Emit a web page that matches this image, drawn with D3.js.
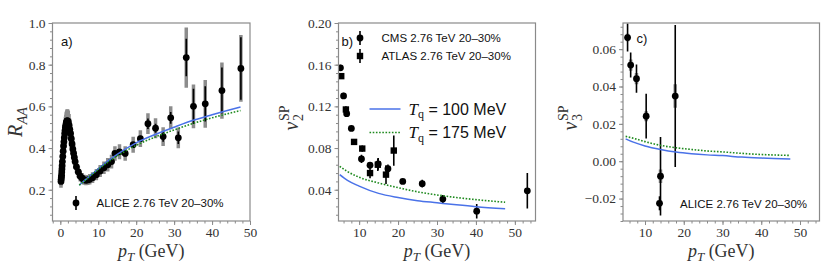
<!DOCTYPE html>
<html><head><meta charset="utf-8">
<script src="https://cdn.jsdelivr.net/npm/d3@7"></script>
<style>body{margin:0;background:#fff}svg{display:block}</style>
</head><body><svg id="c" width="830" height="271"></svg>
<script>
// ---------- DATA ----------
// Panel a: ALICE R_AA 20-30%
const aliceLowPt  = [0.18,0.23,0.28,0.33,0.38,0.43,0.48,0.55,0.65,0.75,0.85,0.95,1.05,1.15,1.25,1.35,1.45,1.55,1.65,1.75,1.85,1.95,2.1,2.3,2.5,2.7,2.9,3.1,3.3,3.5,3.7,3.9,4.25,4.75,5.25,5.75,6.25,6.75,7.25,7.75,8.5,9.5,10.5,11.5,12.5,13.5];
const aliceLowRaa = [0.24,0.25,0.26,0.27,0.285,0.30,0.315,0.335,0.36,0.385,0.41,0.43,0.45,0.47,0.485,0.50,0.51,0.52,0.525,0.53,0.53,0.53,0.525,0.51,0.49,0.47,0.445,0.42,0.395,0.375,0.355,0.335,0.31,0.285,0.265,0.255,0.248,0.245,0.247,0.25,0.258,0.272,0.29,0.305,0.32,0.335];
const aliceLowSys = [0.03,0.03,0.03,0.03,0.03,0.03,0.032,0.033,0.035,0.037,0.04,0.042,0.044,0.046,0.048,0.05,0.05,0.052,0.053,0.055,0.055,0.055,0.054,0.053,0.05,0.048,0.045,0.042,0.04,0.038,0.035,0.033,0.03,0.028,0.026,0.025,0.024,0.024,0.024,0.025,0.026,0.027,0.029,0.03,0.032,0.033];
const aliceHighPt   = [14.4,15.6,17.1,19.2,21.1,23.1,25.1,27.1,29.1,31.1,33.2,35.1,38.2,42.6,47.6];
const aliceHighRaa  = [0.374,0.382,0.374,0.416,0.445,0.517,0.495,0.455,0.545,0.449,0.834,0.600,0.612,0.676,0.782];
const aliceHighStat = [0.012,0.012,0.015,0.012,0.014,0.025,0.022,0.025,0.028,0.03,0.09,0.085,0.085,0.11,0.15];
const aliceHighSys  = [0.035,0.036,0.035,0.038,0.04,0.05,0.048,0.045,0.055,0.05,0.145,0.105,0.115,0.135,0.16];
const modelRaaPt   = [5,6,7,8,10,12,15,20,25,30,35,40,47.5];
const modelRaa100  = [0.222,0.238,0.254,0.27,0.30,0.33,0.37,0.425,0.465,0.50,0.533,0.56,0.597];
const modelRaa175  = [0.222,0.237,0.252,0.268,0.297,0.325,0.362,0.413,0.453,0.487,0.518,0.545,0.58];

// Panel b: v2
const cmsPt  = [5.2,6.0,6.8,8.0,10.6,12.8,14.9,17.4,21.2,26.2,31.5,40.2,53.2];
const cmsV2  = [0.157,0.130,0.113,0.0988,0.0696,0.0635,0.0648,0.0602,0.048,0.0458,0.031,0.0194,0.039];
const cmsErr = [0.003,0.003,0.002,0.002,0.004,0.003,0.0056,0.004,0.002,0.0037,0.004,0.007,0.017];
const atlasPt  = [5.4,6.6,8.7,10.8,12.8,14.8,16.9,18.9];
const atlasV2  = [0.149,0.117,0.0859,0.0795,0.056,0.064,0.0545,0.0776];
const atlasErr = [0.002,0.003,0.002,0.003,0.005,0.006,0.009,0.0145];
const modelV2Pt  = [5,7,10,15,20,25,30,35,40,47.5];
const modelV2100 = [0.0545,0.049,0.0435,0.0365,0.0325,0.0295,0.0275,0.0255,0.0237,0.0217];
const modelV2175 = [0.0625,0.0575,0.052,0.0465,0.042,0.038,0.035,0.0325,0.0305,0.028];

// Panel c: v3
const aliceV3Pt   = [5.5,6.3,7.8,10.3,14.0,17.8];
const aliceV3     = [0.0662,0.0515,0.0442,0.0241,-0.008,0.0349];
const aliceV3Stat = [0.0075,0.0067,0.0076,0.012,0.021,0.038];
const aliceV3Sys  = [0.002,0.003,0.003,0.0027,0.0036,0.0063];
const modelV3Pt  = [5,7,10,14,18,22,26,30,35,40,47.5];
const modelV3100 = [0.012,0.0102,0.0082,0.0063,0.0049,0.004,0.0034,0.003,0.0022,0.0017,0.0012];
const modelV3175 = [0.0133,0.0123,0.0105,0.0085,0.0072,0.0063,0.0055,0.005,0.0042,0.0036,0.0031];

// Tick labels
const xTicksA = [0,10,20,30,40,50];
const xTicksBC = [10,20,30,40,50];
const yTicksA = [0.2,0.4,0.6,0.8,1.0];
const yTicksB = [0.04,0.08,0.12,0.16,0.20];
const yTicksC = [-0.02,0.00,0.02,0.04,0.06];

const legendAlice = "ALICE 2.76 TeV 20–30%";
const legendCms = "CMS 2.76 TeV 20–30%";
const legendAtlas = "ATLAS 2.76 TeV 20–30%";
const modelLabels = ["100", "175"];

// ---------- STYLE ----------
const svg = d3.select("#c");
const TOP = 23, BOT = 221;
const FRAME = "#8a8a8a", TXT = "#333";
const SERIF = "'Liberation Serif','Times New Roman',serif";
const SANS = "'Liberation Sans',Arial,Helvetica,sans-serif";
const BLUE = "#4a72e8", GREEN = "#1f8a1f", GREYSYS = "#8c8c8c";
let clipId = 0;

function panel(x0, x1, xd, yd, xt, yt, yfmt, xminStep, yminStep) {
  const x = d3.scaleLinear().domain(xd).range([x0, x1]);
  const y = d3.scaleLinear().domain(yd).range([BOT, TOP]);
  const g = svg.append("g");
  const style = s => {
    s.select(".domain").remove();
    s.selectAll("line").attr("stroke", FRAME).attr("stroke-width", 1);
    s.selectAll("text").attr("fill", TXT).attr("font-family", SERIF).attr("font-size", 13.5);
  };
  const xmin = d3.range(Math.ceil(xd[0] / xminStep) * xminStep, xd[1] + 1e-9, xminStep);
  const ymin = d3.range(Math.ceil((yd[0] - 1e-9) / yminStep) * yminStep, yd[1] + 1e-9, yminStep);
  g.append("g").attr("transform", `translate(0,${BOT})`)
    .call(d3.axisBottom(x).tickValues(xmin).tickSize(2.5).tickFormat("")).call(style);
  g.append("g").attr("transform", `translate(0,${BOT})`)
    .call(d3.axisBottom(x).tickValues(xt).tickSize(4).tickPadding(2).tickFormat(d3.format("d"))).call(style);
  g.append("g").attr("transform", `translate(${x0},0)`)
    .call(d3.axisLeft(y).tickValues(ymin).tickSize(2.5).tickFormat("")).call(style);
  g.append("g").attr("transform", `translate(${x0},0)`)
    .call(d3.axisLeft(y).tickValues(yt).tickSize(4).tickPadding(3).tickFormat(d3.format(yfmt))).call(style);
  const id = "clip" + (clipId++);
  svg.append("clipPath").attr("id", id).append("rect")
    .attr("x", x0).attr("y", TOP).attr("width", x1 - x0).attr("height", BOT - TOP);
  const plot = g.append("g").attr("clip-path", `url(#${id})`);
  g.append("rect").attr("x", x0).attr("y", TOP).attr("width", x1 - x0).attr("height", BOT - TOP)
    .attr("fill", "none").attr("stroke", FRAME).attr("stroke-width", 1.2);
  const xl = g.append("text").attr("x", (x0 + x1) / 2).attr("y", 257).attr("text-anchor", "middle")
    .attr("font-family", SERIF).attr("font-size", 18).attr("fill", TXT);
  xl.append("tspan").attr("font-style", "italic").text("p");
  xl.append("tspan").attr("font-style", "italic").attr("font-size", 13).attr("dy", 4).text("T");
  xl.append("tspan").attr("dy", -4).text(" (GeV)");
  return { x, y, g, plot, x0, x1 };
}

function errBars(P, xs, ys, es, color, width) {
  P.plot.append("g").selectAll("line").data(xs).join("line")
    .attr("x1", d => P.x(d)).attr("x2", d => P.x(d))
    .attr("y1", (d, i) => P.y(ys[i] - es[i])).attr("y2", (d, i) => P.y(ys[i] + es[i]))
    .attr("stroke", color).attr("stroke-width", width);
}
function dots(P, xs, ys, r) {
  P.plot.append("g").selectAll("circle").data(xs).join("circle")
    .attr("cx", d => P.x(d)).attr("cy", (d, i) => P.y(ys[i])).attr("r", r).attr("fill", "#000");
}
function squares(P, xs, ys, s) {
  P.plot.append("g").selectAll("rect").data(xs).join("rect")
    .attr("x", d => P.x(d) - s / 2).attr("y", (d, i) => P.y(ys[i]) - s / 2)
    .attr("width", s).attr("height", s).attr("fill", "#000");
}
function curve(P, xs, ys, color, dash) {
  const line = d3.line().x(d => P.x(d[0])).y(d => P.y(d[1])).curve(d3.curveMonotoneX);
  P.plot.append("path").datum(xs.map((v, i) => [v, ys[i]])).attr("d", line)
    .attr("fill", "none").attr("stroke", color).attr("stroke-width", dash ? 1.6 : 1.5)
    .attr("stroke-dasharray", dash || null);
}
function ylabel(xb, yc, main, sub, sup) {
  const g = svg.append("g").attr("transform", `translate(${xb},${yc}) rotate(-90)`);
  const t = g.append("text").attr("font-family", SERIF).attr("fill", TXT);
  const m = t.append("tspan").attr("font-style", "italic").attr("font-size", 20).text(main);
  const mw = m.node().getComputedTextLength();
  const s = g.append("text").attr("font-family", SERIF).attr("fill", TXT).attr("font-size", 14)
    .attr("font-style", sub.length > 1 ? "italic" : "normal").attr("x", mw + 0.5).attr("y", 5).text(sub);
  let w = mw + 0.5 + s.node().getComputedTextLength();
  if (sup) {
    const u = g.append("text").attr("font-family", SERIF).attr("fill", TXT).attr("font-size", 14)
      .attr("x", mw + 0.5).attr("y", -9).text(sup);
    w = Math.max(w, mw + 0.5 + u.node().getComputedTextLength());
  }
  g.selectAll("text").attr("transform", `translate(${-w / 2},0)`);
}
function legendMarker(g, cx, cy, shape) {
  g.append("line").attr("x1", cx).attr("x2", cx).attr("y1", cy - 7).attr("y2", cy + 7)
    .attr("stroke", "#000").attr("stroke-width", 1.6);
  if (shape === "sq") g.append("rect").attr("x", cx - 3.2).attr("y", cy - 3.2).attr("width", 6.4).attr("height", 6.4).attr("fill", "#000");
  else g.append("circle").attr("cx", cx).attr("cy", cy).attr("r", 3.4).attr("fill", "#000");
}
function sansText(g, x, y, txt, size) {
  g.append("text").attr("x", x).attr("y", y).attr("font-family", SANS).attr("font-size", size)
    .attr("fill", "#111").text(txt);
}

// ---------- PANEL A ----------
const A = panel(52.5, 250, [-2.06, 50], [0.05, 1.0], xTicksA, yTicksA, ".1f", 2, 0.04);
errBars(A, aliceLowPt, aliceLowRaa, aliceLowSys, GREYSYS, 3.5);
errBars(A, aliceHighPt, aliceHighRaa, aliceHighSys, GREYSYS, 3.5);
errBars(A, aliceHighPt, aliceHighRaa, aliceHighStat, "#000", 1.6);
dots(A, aliceLowPt, aliceLowRaa, 3.4);
dots(A, aliceHighPt, aliceHighRaa, 3.4);
curve(A, modelRaaPt, modelRaa100, BLUE, null);
curve(A, modelRaaPt, modelRaa175, GREEN, "1.6,1.6");
sansText(A.g, A.x0 + 8.5, 46, "a)", 13);
legendMarker(A.g, A.x0 + 23.5, 203, "o");
sansText(A.g, A.x0 + 44, 207, legendAlice, 11.5);
ylabel(22, 122, "R", "AA", null);

// ---------- PANEL B ----------
const B = panel(338.5, 535.5, [4.7, 55.3], [0.01, 0.20], xTicksBC, yTicksB, ".2f", 2, 0.008);
errBars(B, cmsPt, cmsV2, cmsErr, "#000", 1.6);
errBars(B, atlasPt, atlasV2, atlasErr, "#000", 1.6);
dots(B, cmsPt, cmsV2, 3.4);
squares(B, atlasPt, atlasV2, 6.4);
curve(B, modelV2Pt, modelV2100, BLUE, null);
curve(B, modelV2Pt, modelV2175, GREEN, "1.6,1.6");
sansText(B.g, B.x0 + 3, 46, "b)", 13);
legendMarker(B.g, B.x0 + 21.5, 38, "o");
sansText(B.g, B.x0 + 43, 42, legendCms, 11.5);
legendMarker(B.g, B.x0 + 21.5, 56, "sq");
sansText(B.g, B.x0 + 43, 60, legendAtlas, 11.5);
const modelLegend = [{ y: 109, c: BLUE, d: null, v: modelLabels[0] }, { y: 132.5, c: GREEN, d: "1.6,1.6", v: modelLabels[1] }];
modelLegend.forEach(m => {
  B.g.append("line").attr("x1", B.x0 + 31).attr("x2", B.x0 + 62).attr("y1", m.y).attr("y2", m.y)
    .attr("stroke", m.c).attr("stroke-width", m.d ? 1.6 : 1.5).attr("stroke-dasharray", m.d);
  const t = B.g.append("text").attr("x", B.x0 + 70).attr("y", m.y + 5.5).attr("fill", "#111");
  t.append("tspan").attr("font-family", SERIF).attr("font-style", "italic").attr("font-size", 17).text("T");
  t.append("tspan").attr("font-family", SERIF).attr("font-size", 12).attr("dy", 3.5).text("q");
  t.append("tspan").attr("font-family", SANS).attr("font-size", 16).attr("dy", -3.5).text(" = " + m.v + " MeV");
});
ylabel(298, 118, "v", "2", "SP");

// ---------- PANEL C ----------
const C = panel(623, 819.5, [4.32, 55.03], [-0.032, 0.074], xTicksBC, yTicksC, ".2f", 2, 0.004);
errBars(C, aliceV3Pt, aliceV3, aliceV3Sys, GREYSYS, 3.5);
errBars(C, aliceV3Pt, aliceV3, aliceV3Stat, "#000", 1.6);
dots(C, aliceV3Pt, aliceV3, 3.4);
curve(C, modelV3Pt, modelV3100, BLUE, null);
curve(C, modelV3Pt, modelV3175, GREEN, "1.6,1.6");
sansText(C.g, C.x0 + 13.5, 42.5, "c)", 13);
legendMarker(C.g, C.x0 + 36.5, 203.3, "o");
sansText(C.g, C.x0 + 57, 207.5, legendAlice, 11.5);
ylabel(577, 118, "v", "3", "SP");
</script></body></html>
